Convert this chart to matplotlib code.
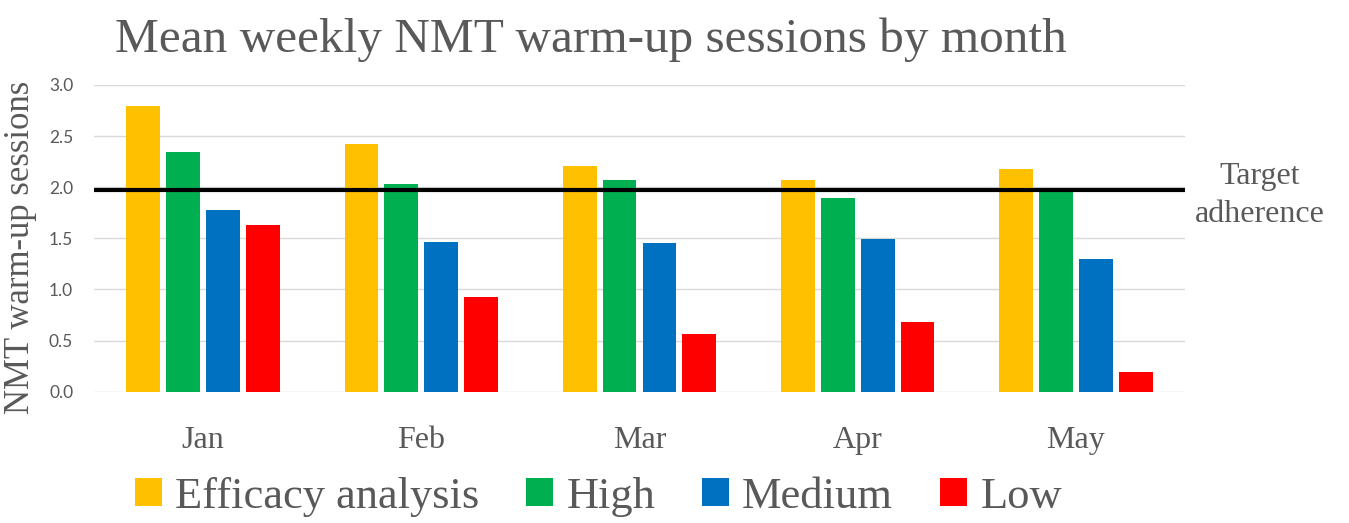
import matplotlib.pyplot as plt
import numpy as np

months = ["Jan", "Feb", "Mar", "Apr", "May"]
series = ["Efficacy analysis", "High", "Medium", "Low"]
efficacy = [2.79, 2.42, 2.21, 2.07, 2.18]
high = [2.34, 2.03, 2.07, 1.89, 1.96]
medium = [1.78, 1.46, 1.45, 1.49, 1.30]
low = [1.63, 0.93, 0.56, 0.68, 0.19]
target = 1.97
colors = ["#FFC000", "#00B050", "#0070C0", "#FF0000"]

serif = "Liberation Serif"
gray = "#595959"

fig = plt.figure(figsize=(13.49, 5.23), dpi=100)
ax = fig.add_axes([0.0697, 0.251, 0.8087, 0.5865])

x = np.arange(len(months))
step = 0.183
width = 0.155
for i, (vals, c) in enumerate(zip([efficacy, high, medium, low], colors)):
    ax.bar(x + (i - 1.5) * step, vals, width, color=c, label=series[i], zorder=2)

ax.axhline(target, color="black", lw=3, zorder=3)

ax.set_xlim(-0.5, 4.5)
ax.set_ylim(0, 3.0)
ax.set_yticks(np.arange(0, 3.01, 0.5))
ax.set_yticklabels([f"{v:.1f}" for v in np.arange(0, 3.01, 0.5)],
                   fontsize=12.5, color=gray, family="Lato")
ax.set_xticks(x)
ax.set_xticklabels(months, fontsize=23, color=gray, family=serif)
ax.tick_params(axis="both", length=0)
ax.tick_params(axis="x", pad=25)
ax.tick_params(axis="y", pad=15)
ax.grid(axis="y", color="#D9D9D9", lw=1, zorder=0)
for s in ax.spines.values():
    s.set_visible(False)

ax.set_ylabel("NMT warm-up sessions", fontsize=25, color=gray, family=serif)
ax.yaxis.set_label_coords(-0.052, 0.47)

fig.text(0.085, 1 - 52 / 523, "Mean weekly NMT warm-up sessions by month", fontsize=35.5,
         color=gray, family=serif, va="baseline")
fig.text(0.934, 0.626, "Target\nadherence", fontsize=23, color=gray, family=serif,
         ha="center", va="center", linespacing=1.4)

fig.legend(*ax.get_legend_handles_labels(), loc="center left", bbox_to_anchor=(0.1, 0.05),
           ncol=4, frameon=False, borderpad=0, borderaxespad=0,
           prop={"family": serif, "size": 32}, labelcolor=gray,
           handlelength=0.6, handleheight=0.6, handletextpad=0.3, columnspacing=1.06)

fig.savefig("out.png", dpi=100)
